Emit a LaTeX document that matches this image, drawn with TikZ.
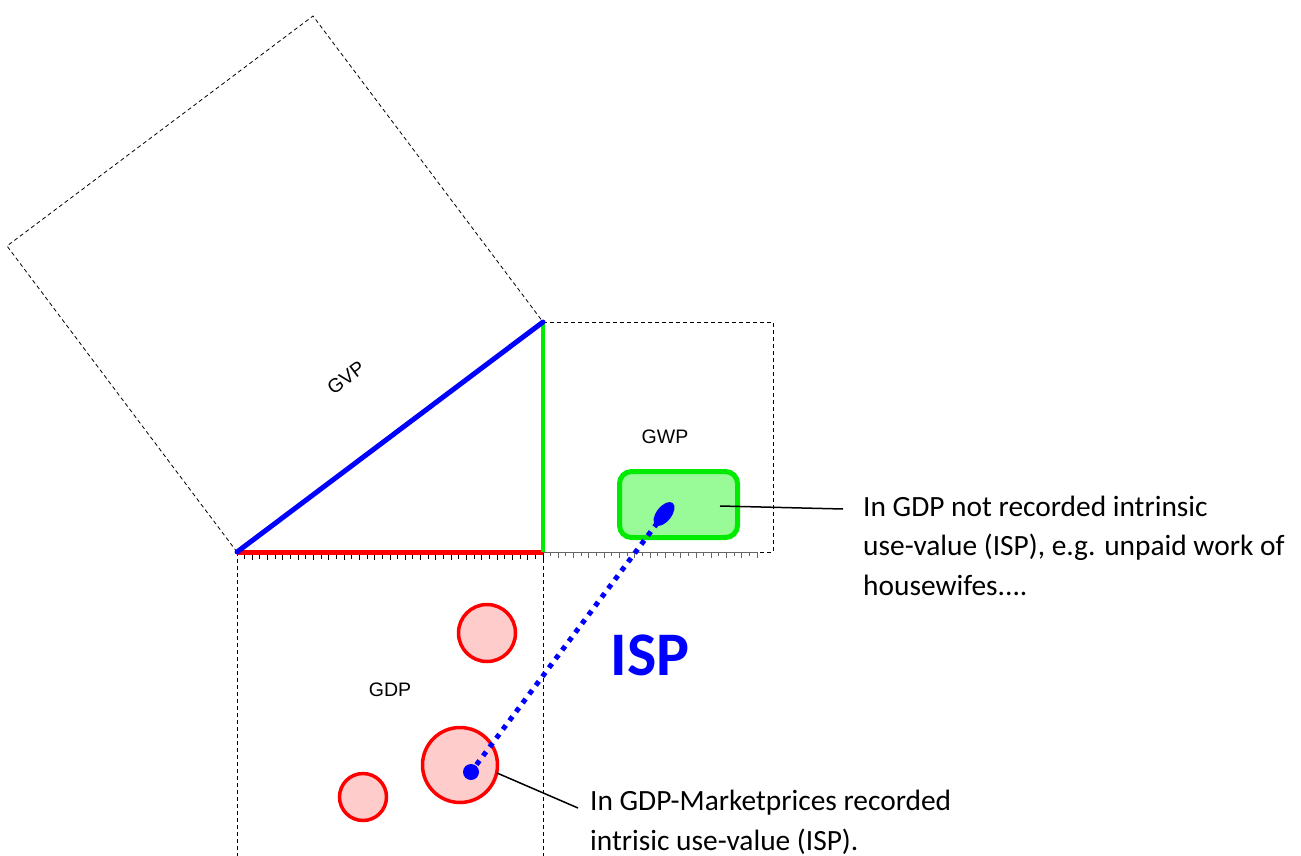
\documentclass[tikz,border=0pt]{standalone}
\usepackage{fontspec}
\setmainfont{Carlito}
\newfontfamily\arialf{Liberation Sans}
\usetikzlibrary{shapes.geometric}
\definecolor{myred}{RGB}{255,0,0}
\definecolor{mygreen}{RGB}{0,235,0}
\definecolor{mypink}{RGB}{255,204,204}
\definecolor{lgreen}{RGB}{152,251,152}
\definecolor{myblue}{RGB}{0,0,255}
\tikzset{
  dsh/.style={draw=black, line width=0.8pt, dash pattern=on 4pt off 3pt},
  tickmark/.style={line width=1pt},
  rcirc/.style={circle, draw=myred, fill=mypink, line width=3.5pt, inner sep=0pt},
  lbl/.style={font=\arialf\fontsize{19.5}{21}\selectfont},
  callout/.style={align=left, inner sep=0pt, anchor=base west, font=\fontsize{29.4}{39.3}\selectfont},
  leader/.style={draw=black, line width=1.5pt}
}
\begin{document}
\begin{tikzpicture}[x=1pt,y=-1pt]
\useasboundingbox (0,0) rectangle (1301,856);
\coordinate (A) at (237,552);
\coordinate (B) at (543,552);
\coordinate (C) at (543,322);
\coordinate (P1) at (7,246);
\coordinate (P2) at (313,16);
\coordinate (Q1) at (773,322);
\coordinate (Q2) at (773,552);
\coordinate (R1) at (237,858);
\coordinate (R2) at (543,858);
% dashed squares
\draw[dsh] (A) -- (P1) -- (P2) -- (C);
\draw[dsh] (C) -- (Q1) -- (Q2) -- (B);
\draw[dsh] (A) -- (R1);
\draw[dsh] (B) -- (R2);
% ticks
\foreach \i in {1,...,40}{
  \pgfmathsetmacro\tl{mod(\i,2)==0 ? 8 : 6.5}
  \draw[tickmark, black] (237+\i*7.65,552) -- ++(0,\tl);
}
\draw[line width=1pt, black!60] (B) -- (757,552);
\foreach \i in {41,...,68}{
  \pgfmathsetmacro\tl{mod(\i,2)==0 ? 5.5 : 3.5}
  \draw[tickmark, black!60] (237+\i*7.65,552) -- ++(0,\tl);
}
% red circles
\node[rcirc, minimum size=57pt] (c1) at (487,633) {};
\node[rcirc, minimum size=75pt] (c2) at (460,765) {};
\node[rcirc, minimum size=47pt] (c3) at (363,797) {};
% triangle
\draw[myred, line width=5pt] (A) -- (B);
\draw[mygreen, line width=4.5pt] (B) -- (C);
\draw[myblue, line width=5pt, line cap=round] (A) -- (C);
% green box
\node[draw=mygreen, fill=lgreen, line width=5pt, rounded corners=12pt, minimum width=118pt, minimum height=66pt] (gbox) at (678.5,504.5) {};
% ISP connection
\node[ellipse, fill=myblue, minimum width=28pt, minimum height=15pt, rotate=52, inner sep=0pt] (blob) at (664,514) {};
\node[circle, fill=myblue, minimum size=16pt, inner sep=0pt] (dot) at (471,772) {};
\draw[myblue, line width=5pt, dash pattern=on 5pt off 6pt] (blob.center) -- (dot.center);
% labels
\node[lbl, rotate=37] (gvp) at (346,378) {GVP};
\node[lbl] (gwp) at (665,437) {GWP};
\node[lbl] (gdp) at (390,690) {GDP};
\node[font=\bfseries\fontsize{62}{66}\selectfont, text=myblue, inner sep=0pt] (isp) at (650,655) {ISP};
% callouts
\node[callout] (t1) at (863,595) {In GDP not recorded intrinsic\\use-value (ISP), e.g. unpaid work of\\housewifes....};
\node[callout] (t2) at (590,850) {In GDP-Marketprices recorded\\intrisic use-value (ISP).};
\coordinate (l1s) at (720,506);
\coordinate (l1e) at (843,509);
\coordinate (l2s) at (497,773);
\coordinate (l2e) at (578,808);
\draw[leader] (l1s) -- (l1e);
\draw[leader] (l2s) -- (l2e);
\end{tikzpicture}
\end{document}
